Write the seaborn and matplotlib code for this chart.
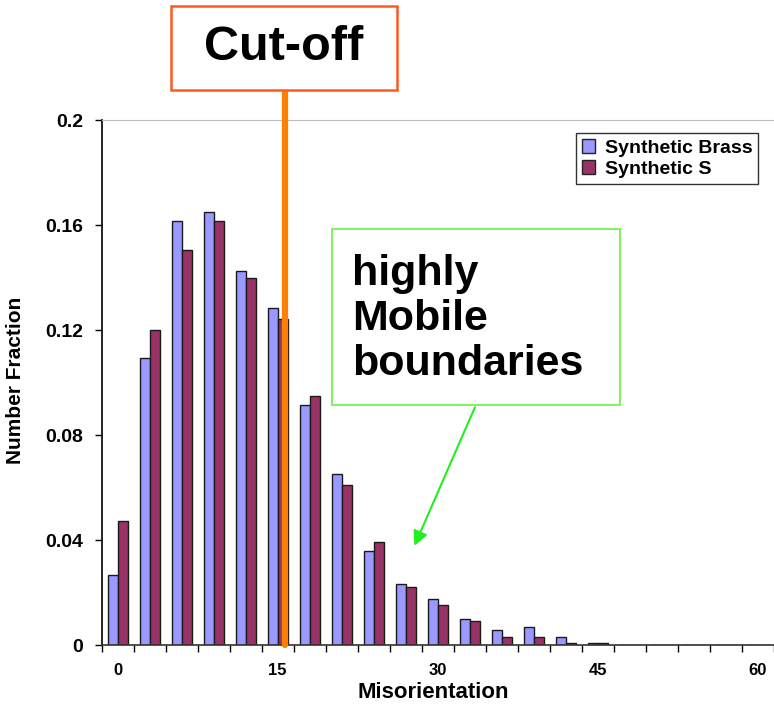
import matplotlib
matplotlib.use('Agg')
import matplotlib.pyplot as plt
import numpy as np
import pandas as pd
import seaborn as sns
from matplotlib.patches import Rectangle, Patch

# misorientation bins (degrees), one category every 3 degrees
bins = [0, 3, 6, 9, 12, 15, 18, 21, 24, 27, 30, 33, 36, 39, 42, 45, 48, 51, 54, 57, 60]
brass = [0.0267, 0.1093, 0.1615, 0.1648, 0.1425, 0.1285, 0.0913, 0.0653, 0.0358, 0.0232,
         0.0175, 0.0099, 0.0057, 0.0069, 0.0032, 0.0008, 0, 0, 0, 0, 0]
synth_s = [0.0472, 0.1200, 0.1503, 0.1615, 0.1398, 0.1242, 0.0947, 0.0611, 0.0392, 0.0221,
           0.0152, 0.0091, 0.0032, 0.0032, 0.0008, 0.0008, 0, 0, 0, 0, 0]
series = ['Synthetic Brass', 'Synthetic S']
tick_labels = ['0', '15', '30', '45', '60']
cutoff_deg = 15.7

df = pd.DataFrame({'Misorientation': bins * 2,
                   'Number Fraction': brass + synth_s,
                   'series': [series[0]] * len(bins) + [series[1]] * len(bins)})
pal = {series[0]: '#9999FF', series[1]: '#993366'}

sns.set_style('ticks')
plt.rcParams['font.family'] = ['Liberation Sans', 'DejaVu Sans']
plt.rcParams['font.weight'] = 'bold'
plt.rcParams['text.color'] = 'black'
plt.rcParams['axes.labelcolor'] = 'black'
plt.rcParams['xtick.color'] = 'black'
plt.rcParams['ytick.color'] = 'black'

fig = plt.figure(figsize=(7.74, 7.04), dpi=100)
ax = fig.add_axes([0.1312, 0.0838, 0.8688, 0.7457])
sns.barplot(data=df, x='Misorientation', y='Number Fraction', hue='series', palette=pal,
            saturation=1, width=0.625, edgecolor='#1a1a1a', linewidth=1, legend=False, ax=ax)

ax.set_xlim(-0.5, len(bins) - 0.5)
ax.set_ylim(0, 0.2)
ax.set_yticks([0, 0.04, 0.08, 0.12, 0.16, 0.2])
ax.set_yticklabels(['0', '0.04', '0.08', '0.12', '0.16', '0.2'], fontsize=14, fontweight='bold')
ax.tick_params(axis='y', length=5, width=1, pad=8, direction='out')

# tick marks between categories, labels every 15 degrees
ax.set_xticks(np.arange(-0.5, len(bins), 1))
ax.set_xticklabels([])
ax.tick_params(axis='x', which='major', length=5, width=1, direction='out')
ax.set_xticks([bins.index(int(t)) for t in tick_labels], minor=True)
ax.set_xticklabels(tick_labels, minor=True, fontsize=12, fontweight='bold')
ax.tick_params(axis='x', which='minor', length=0, pad=13)

ax.set_xlabel('Misorientation', fontsize=16, fontweight='bold')
ax.set_ylabel('Number Fraction', fontsize=15, fontweight='bold')
ax.xaxis.set_label_coords(0.494, -0.071)
ax.yaxis.set_label_coords(-0.114, 0.505)

ax.spines['right'].set_visible(False)
ax.spines['top'].set_color('#BBBBBB')
ax.spines['left'].set_color('black')
ax.spines['bottom'].set_color('#333333')
ax.spines['left'].set_linewidth(1.2)
ax.spines['bottom'].set_linewidth(1.2)

handles = [Patch(facecolor=pal[s], edgecolor='#222222', linewidth=1) for s in series]
fig.legend(handles, series, loc='upper left', bbox_to_anchor=(0.744, 0.811),
           frameon=True, fancybox=False, edgecolor='black', fontsize=14,
           handlelength=0.7, handleheight=0.7, handletextpad=0.5,
           borderpad=0.3, labelspacing=0.2, borderaxespad=0)

# cut-off line and label
cut_x = cutoff_deg / 3
ax.plot([cut_x, cut_x], [0, 0.213], color='#FF8000', lw=4.5, clip_on=False, zorder=10)
fig.patches.append(Rectangle((0.221, 0.872), 0.292, 0.119, transform=fig.transFigure,
                             fill=True, facecolor='white', edgecolor='#FF5A1F', lw=1.8))
fig.text(0.367, 0.932, 'Cut-off', fontsize=35, fontweight='bold', ha='center', va='center')

# highly mobile boundaries note
fig.patches.append(Rectangle((0.429, 0.425), 0.372, 0.25, transform=fig.transFigure,
                             fill=True, facecolor='white', edgecolor='#88F066', lw=1.5, zorder=5))
fig.text(0.455, 0.547, 'highly\nMobile\nboundaries', fontsize=31, fontweight='bold',
         ha='left', va='center', linespacing=1.15, zorder=6)
ax.annotate('', xy=(0.534, 0.221), xycoords='figure fraction',
            xytext=(0.615, 0.425), textcoords='figure fraction',
            arrowprops=dict(arrowstyle='-|>', color='#22EE22', lw=1.5, mutation_scale=22))

fig.savefig('out.png', dpi=100)
